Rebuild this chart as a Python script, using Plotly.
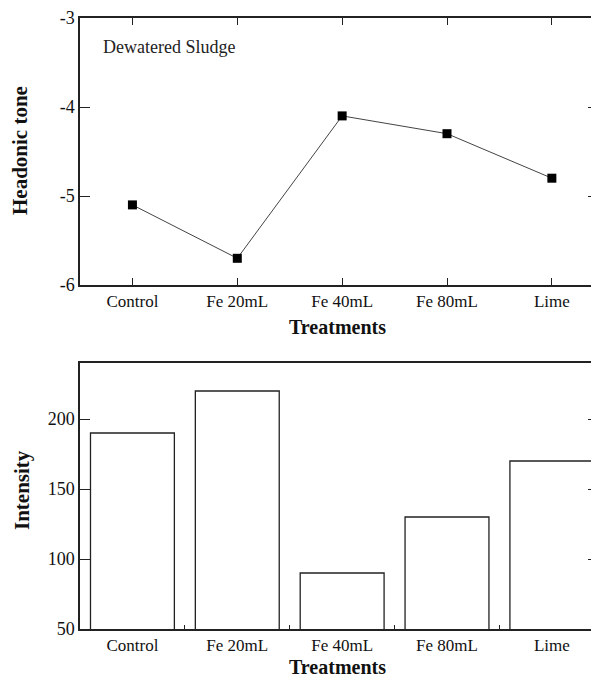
import plotly.graph_objects as go

categories = ["Control", "Fe 20mL", "Fe 40mL", "Fe 80mL", "Lime"]
headonic_tone = [-5.1, -5.7, -4.1, -4.3, -4.8]
intensity = [190, 220, 90, 130, 170]
tone_ticks = [-6, -5, -4, -3]
intensity_ticks = [50, 100, 150, 200]

OFF = 8  # page body margin
W, H = 599 - OFF, 679 - OFF
serif = "Liberation Serif, Times New Roman, serif"

def px(sx):
    return (sx - OFF) / W

def py_(sy):
    return 1 - (sy - OFF) / H

fig = go.Figure()
fig.add_trace(go.Scatter(
    x=categories, y=headonic_tone, mode="lines+markers",
    line=dict(color="#444444", width=1),
    marker=dict(symbol="square", size=9, color="black"),
    xaxis="x", yaxis="y", showlegend=False))
fig.add_trace(go.Bar(
    x=categories, y=intensity, width=0.8,
    marker=dict(color="white", line=dict(color="#222222", width=1.3)),
    xaxis="x2", yaxis="y2", showlegend=False))

xdom = [px(80), min(1.0, px(598))]
axis_common = dict(showline=True, linecolor="#222222", linewidth=1.5,
                   showgrid=False, zeroline=False, ticks="inside",
                   tickcolor="#222222", tickwidth=1.3, automargin=False)
xtickfont = dict(family=serif, size=17, color="#111111")
ytickfont = dict(family=serif, size=18, color="#111111")

fig.update_layout(
    width=W, height=H, margin=dict(l=0, r=0, t=0, b=0),
    plot_bgcolor="white", paper_bgcolor="white",
    xaxis=dict(domain=xdom, anchor="y", type="category",
               categoryorder="array", categoryarray=categories,
               range=[-0.5, 4.44], mirror="ticks", ticklen=7,
               tickfont=xtickfont, **axis_common),
    yaxis=dict(domain=[py_(285), py_(18)], anchor="x", range=[-6, -3],
               tickvals=tone_ticks, ticktext=[str(v) for v in tone_ticks],
               mirror="ticks", ticklen=10, tickfont=ytickfont, **axis_common),
    xaxis2=dict(domain=xdom, anchor="y2", type="category",
                categoryorder="array", categoryarray=categories,
                range=[-0.5, 4.44], mirror=True, tickson="boundaries",
                ticklen=4, tickfont=xtickfont, **axis_common),
    yaxis2=dict(domain=[py_(629), py_(363)], anchor="x2", range=[50, 240],
                tickvals=intensity_ticks, mirror="ticks", ticklen=10,
                tickfont=ytickfont, **axis_common),
)

title_font = dict(family=serif, size=20, color="#111111")
fig.add_annotation(text="<b>Treatments</b>", x=px(337), y=py_(327),
                   xref="paper", yref="paper", showarrow=False, font=title_font,
                   yanchor="middle")
fig.add_annotation(text="<b>Treatments</b>", x=px(337), y=py_(679),
                   xref="paper", yref="paper", showarrow=False, font=title_font,
                   yanchor="bottom", borderpad=0)
fig.add_annotation(text="<b>Headonic tone</b>", x=px(20), y=py_(151),
                   xref="paper", yref="paper", showarrow=False, textangle=-90,
                   font=dict(family=serif, size=21, color="#111111"),
                   xanchor="center", yanchor="middle")
fig.add_annotation(text="<b>Intensity</b>", x=px(22), y=py_(490),
                   xref="paper", yref="paper", showarrow=False, textangle=-90,
                   font=dict(family=serif, size=21, color="#111111"),
                   xanchor="center", yanchor="middle")
fig.add_annotation(text="Dewatered Sludge", x=px(101), y=py_(47),
                   xref="paper", yref="paper", showarrow=False, xanchor="left",
                   yanchor="middle",
                   font=dict(family=serif, size=18, color="#222222"))

fig.write_html("out.html")
